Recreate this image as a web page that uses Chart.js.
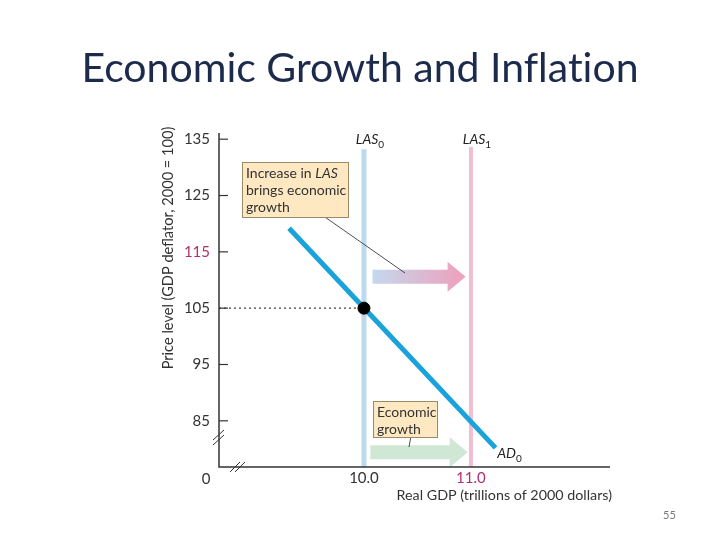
<!DOCTYPE html>
<html>
<head>
<meta charset="utf-8">
<script src="https://cdn.jsdelivr.net/npm/chart.js@4"></script>
<style>
body{margin:0;background:#fff;}
#wrap{position:relative;width:720px;height:540px;}
#title{position:absolute;left:0;top:43px;width:720px;text-align:center;font-family:Lato,sans-serif;font-size:41px;line-height:48px;color:#1c2b4c;font-variant-ligatures:none;}
#page{position:absolute;left:663px;top:508px;font-family:Lato,sans-serif;font-size:11px;color:#777;}
canvas{position:absolute;left:0;top:0;}
</style>
</head>
<body>
<div id="wrap">
<canvas id="chart" width="720" height="540"></canvas>
<div id="title">Economic Growth and Inflation</div>
<div id="page">55</div>
</div>
<script>
//* Input data //*

var yTicks = [85, 95, 105, 115, 125, 135];
var xTicks = [10.0, 11.0];
var yRange = [76.8, 136.1];
var xRange = [8.645, 12.3];
// Long run aggregate supply, before and after.
var lasX = [10.0, 11.0];
var lasTop = [133.2, 133.6];
// Aggregate demand.
var adX = [9.30, 11.23];
var adY = [119.2, 80.2];
// Equilibrium.
var eqX = 10.0;
var eqY = 105;

var ink = '#333';
var pinkText = '#b3306e';

//* Draw the axes, labels, boxes and arrows //*

function boxText(ctx, x, y, w, h, lines) {
    ctx.fillStyle = '#fde8c2';
    ctx.strokeStyle = '#9c8a66';
    ctx.lineWidth = 1;
    ctx.fillRect(x, y, w, h);
    ctx.strokeRect(x + 0.5, y + 0.5, w, h);
    ctx.fillStyle = '#333';
    ctx.textAlign = 'left';
    ctx.textBaseline = 'alphabetic';
    lines.forEach(function(parts, i) {
        var cx = x + 4;
        parts.forEach(function(p) {
            ctx.font = (p.it ? 'italic ' : '') + '14px Lato';
            ctx.fillText(p.t, cx, y + 16 + i * 17);
            cx += ctx.measureText(p.t).width;
        });
    });
}

function arrow(ctx, x0, x1, yc, fill) {
    // Shaft then head, pointing right.
    ctx.fillStyle = fill;
    ctx.beginPath();
    ctx.moveTo(x0, yc - 7);
    ctx.lineTo(x1 - 18, yc - 7);
    ctx.lineTo(x1 - 18, yc - 15);
    ctx.lineTo(x1, yc);
    ctx.lineTo(x1 - 18, yc + 15);
    ctx.lineTo(x1 - 18, yc + 7);
    ctx.lineTo(x0, yc + 7);
    ctx.closePath();
    ctx.fill();
}

function subLabel(ctx, main, sub, x, y) {
    ctx.textAlign = 'left';
    ctx.textBaseline = 'alphabetic';
    ctx.font = 'italic 14px Lato';
    var w = ctx.measureText(main).width;
    ctx.font = '10px Lato';
    var w2 = ctx.measureText(sub).width;
    var sx = x - (w + w2) / 2;
    ctx.fillStyle = '#222';
    ctx.font = 'italic 14px Lato';
    ctx.fillText(main, sx, y);
    ctx.font = '10px Lato';
    ctx.fillText(sub, sx + w, y + 4);
}

var decor = {
    id: 'decor',
    beforeDatasetsDraw: function(chart) {
        var ctx = chart.ctx;
        var xs = chart.scales.x, ys = chart.scales.y;
        ctx.save();
        // Top arrow, blue to pink.
        var a0 = xs.getPixelForValue(10.08), a1 = xs.getPixelForValue(10.95);
        var g = ctx.createLinearGradient(a0, 0, a1, 0);
        g.addColorStop(0, '#c4d8ee');
        g.addColorStop(1, '#ef9fbb');
        arrow(ctx, a0, a1, ys.getPixelForValue(110.6), g);
        // Bottom arrow, green.
        arrow(ctx, xs.getPixelForValue(10.06), xs.getPixelForValue(10.97), ys.getPixelForValue(79.4), '#d0e7d5');
        ctx.restore();
    },
    afterDraw: function(chart) {
        var ctx = chart.ctx;
        var xs = chart.scales.x, ys = chart.scales.y;
        var ca = chart.chartArea;
        ctx.save();
        // Axes.
        ctx.strokeStyle = ink;
        ctx.lineWidth = 1.5;
        ctx.beginPath();
        ctx.moveTo(ca.left, ca.top);
        ctx.lineTo(ca.left, ca.bottom);
        ctx.lineTo(ca.right, ca.bottom);
        ctx.stroke();
        // Breaks.
        ctx.lineWidth = 1;
        ctx.beginPath();
        [0, 5].forEach(function(d) {
            ctx.moveTo(ca.left - 6, ca.bottom - 22 - d);
            ctx.lineTo(ca.left + 5, ca.bottom - 32 - d);
            ctx.moveTo(ca.left + 11 + d, ca.bottom + 5);
            ctx.lineTo(ca.left + 21 + d, ca.bottom - 5);
        });
        ctx.stroke();
        // Y ticks and labels.
        ctx.font = '15px Lato';
        ctx.textAlign = 'right';
        ctx.textBaseline = 'middle';
        yTicks.forEach(function(v) {
            var py = ys.getPixelForValue(v);
            ctx.strokeStyle = ink;
            ctx.lineWidth = 1.2;
            ctx.beginPath();
            ctx.moveTo(ca.left, py);
            ctx.lineTo(ca.left + 9, py);
            ctx.stroke();
            ctx.fillStyle = v === 115 ? pinkText : '#333';
            ctx.fillText(String(v), ca.left - 9, py);
        });
        ctx.fillStyle = '#333';
        ctx.textAlign = 'center';
        ctx.textBaseline = 'top';
        ctx.fillText('0', ca.left - 13, ca.bottom + 5);
        xTicks.forEach(function(v) {
            ctx.fillStyle = v === 11 ? pinkText : '#333';
            ctx.fillText(v.toFixed(1), xs.getPixelForValue(v), ca.bottom + 4);
        });
        // Axis titles.
        ctx.fillStyle = '#333';
        ctx.font = '14.3px Lato';
        ctx.textAlign = 'right';
        ctx.textBaseline = 'top';
        ctx.fillText('Real GDP (trillions of 2000 dollars)', ca.right + 2, ca.bottom + 21);
        ctx.save();
        ctx.translate(168, 248);
        ctx.rotate(-Math.PI / 2);
        ctx.textAlign = 'center';
        ctx.textBaseline = 'middle';
        ctx.font = '14.6px Lato';
        ctx.fillText('Price level (GDP deflator, 2000 = 100)', 0, 0);
        ctx.restore();
        // Curve labels.
        subLabel(ctx, 'LAS', '0', xs.getPixelForValue(lasX[0]) + 6, ca.top + 11);
        subLabel(ctx, 'LAS', '1', xs.getPixelForValue(lasX[1]) + 6, ca.top + 11);
        subLabel(ctx, 'AD', '0', xs.getPixelForValue(adX[1]) + 14, ys.getPixelForValue(adY[1]) + 10);
        // Leader lines.
        ctx.strokeStyle = '#222';
        ctx.lineWidth = 0.8;
        ctx.beginPath();
        ctx.moveTo(322, 215);
        ctx.lineTo(405, 273);
        ctx.moveTo(411, 436);
        ctx.lineTo(409, 447);
        ctx.stroke();
        // Boxes.
        boxText(ctx, 242, 162, 106, 55, [[{t: 'Increase in '}, {t: 'LAS', it: true}], [{t: 'brings economic'}], [{t: 'growth'}]]);
        boxText(ctx, 373, 401, 64, 36, [[{t: 'Economic'}], [{t: 'growth'}]]);
        ctx.restore();
    }
};

//* Build the chart //*

function pts(xs, ys) {
    return xs.map(function(x, i) { return {x: x, y: ys[i]}; });
}

// First dataset is drawn on top.
var datasets = [
    {data: [{x: eqX, y: eqY}], pointRadius: 6, pointBackgroundColor: '#000', pointBorderColor: '#000', showLine: false},
    {data: pts(adX, adY), borderColor: '#1aa2da', borderWidth: 5, pointRadius: 0, borderCapStyle: 'butt'},
    {data: pts([lasX[0], lasX[0]], [yRange[0], lasTop[0]]), borderColor: '#bcd9ee', borderWidth: 5, pointRadius: 0},
    {data: pts([lasX[1], lasX[1]], [yRange[0], lasTop[1]]), borderColor: '#f2bdd0', borderWidth: 4, pointRadius: 0},
    {data: [{x: xRange[0], y: eqY}, {x: eqX, y: eqY}], borderColor: '#444', borderWidth: 1.2, borderDash: [2, 3], pointRadius: 0}
];

var chart = new Chart(document.getElementById('chart').getContext('2d'), {
    type: 'scatter',
    data: {datasets: datasets.map(function(d) { d.showLine = d.showLine !== false; return d; })},
    options: {
        responsive: false,
        animation: false,
        layout: {padding: {left: 219, right: 110, top: 133, bottom: 73}},
        plugins: {legend: {display: false}, tooltip: {enabled: false}},
        scales: {
            x: {type: 'linear', min: xRange[0], max: xRange[1], display: false},
            y: {type: 'linear', min: yRange[0], max: yRange[1], display: false}
        }
    },
    plugins: [decor]
});
</script>
</body>
</html>
